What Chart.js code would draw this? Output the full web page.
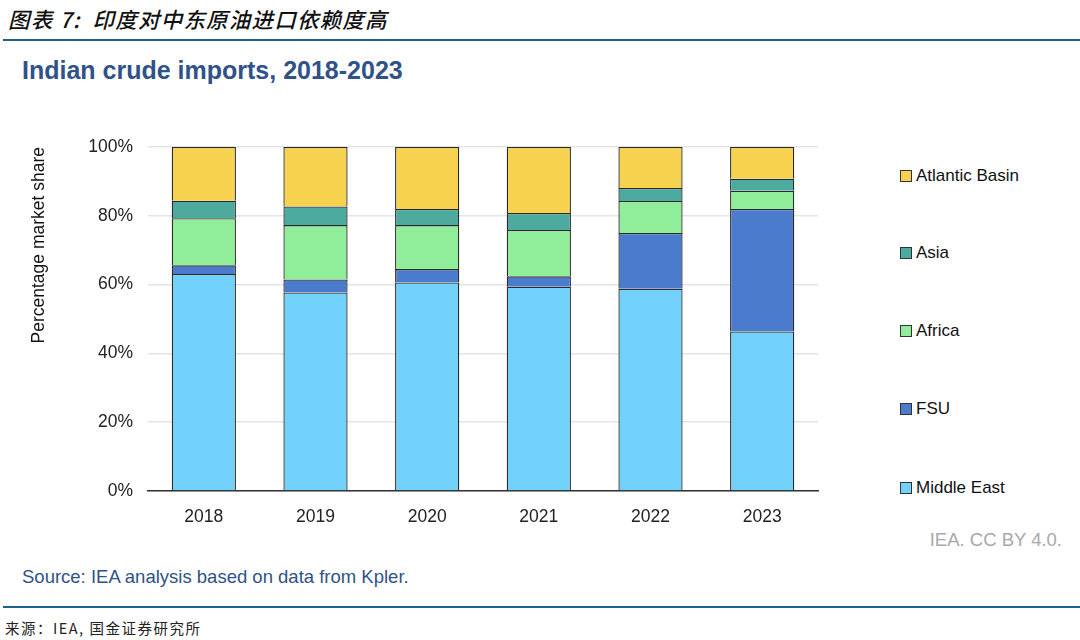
<!DOCTYPE html>
<html>
<head>
<meta charset="utf-8">
<script src="https://cdn.jsdelivr.net/npm/chart.js@4.4.1/dist/chart.umd.min.js"></script>
<style>
  html, body { margin: 0; padding: 0; background: #fff; }
  #page { position: relative; width: 1080px; height: 640px; overflow: hidden; font-family: "Liberation Sans", Arial, sans-serif; }
  .abs { position: absolute; white-space: nowrap; }
  #header { left: 8px; top: 7px; font: italic 500 21.5px/24px "Noto Sans CJK SC", sans-serif; letter-spacing: 1.2px; color: #111; }
  .rule { position: absolute; left: 3px; right: 0; height: 2px; background: #20608f; }
  #title { left: 22px; top: 55px; font: bold 25px/30px "Liberation Sans", Arial, sans-serif; color: #2f5288; }
  #credit { right: 18px; top: 529px; font: 18.5px/22px "Liberation Sans", Arial, sans-serif; color: #a8a8a8; }
  #source { left: 22px; top: 566px; font: 18.5px/22px "Liberation Sans", Arial, sans-serif; color: #2f5288; }
  #footer { left: 5px; top: 619px; font: 14.5px/18px "Noto Sans CJK SC", sans-serif; letter-spacing: 1.5px; color: #222; }
  #chart { position: absolute; left: 0; top: 120px; }
  .leg { position: absolute; left: 900px; height: 20px; display: flex; align-items: center; font: 17px "Liberation Sans", Arial, sans-serif; color: #111; }
  .leg i { display: inline-block; width: 10px; height: 10px; border: 1px solid #333; margin-right: 4px; }
</style>
</head>
<body>
<div id="page">
  <div id="header" class="abs">图表 7:&nbsp; 印度对中东原油进口依赖度高</div>
  <div class="rule" style="top:39px"></div>
  <div id="title" class="abs">Indian crude imports, 2018-2023</div>
  <canvas id="chart" width="840" height="430"></canvas>
  <div id="legend"></div>
  <div id="credit" class="abs">IEA. CC BY 4.0.</div>
  <div id="source" class="abs">Source: IEA analysis based on data from Kpler.</div>
  <div class="rule" style="top:606px"></div>
  <div id="footer" class="abs">来源：IEA, 国金证券研究所</div>
</div>
<script>
// years and share of imports (%) by origin
const years = ['2018', '2019', '2020', '2021', '2022', '2023'];
const middleEast = [63.1, 57.7, 60.6, 59.4, 58.8, 46.4];
const fsu = [2.5, 3.8, 3.9, 3.0, 16.2, 35.6];
const africa = [13.7, 15.8, 12.8, 13.5, 9.3, 5.3];
const asia = [5.1, 5.4, 4.7, 4.9, 3.8, 3.5];
const atlanticBasin = [15.6, 17.3, 18.0, 19.2, 11.9, 9.2];
const yTicks = [0, 20, 40, 60, 80, 100];

const series = [
  { label: 'Middle East', data: middleEast, color: '#72d1fa' },
  { label: 'FSU', data: fsu, color: '#4a7bcd' },
  { label: 'Africa', data: africa, color: '#90ee9a' },
  { label: 'Asia', data: asia, color: '#4daa9e' },
  { label: 'Atlantic Basin', data: atlanticBasin, color: '#f6d24f' }
];

const datasets = series.map(s => ({
  label: s.label,
  data: s.data,
  backgroundColor: s.color,
  borderColor: '#2a2a2a',
  borderWidth: 1.3,
  barPercentage: 0.575,
  categoryPercentage: 1
}));

const ctx = document.getElementById('chart').getContext('2d');
const chart = new Chart(ctx, {
  type: 'bar',
  data: { labels: years, datasets: datasets },
  options: {
    responsive: false,
    animation: false,
    devicePixelRatio: 1,
    layout: { padding: { top: 27, right: 22, left: 0, bottom: 0 } },
    plugins: { legend: { display: false }, tooltip: { enabled: false } },
    scales: {
      x: {
        stacked: true,
        grid: { display: false, drawTicks: false },
        border: { display: true, color: '#333', width: 1.5 },
        ticks: { color: '#222', padding: 16, font: { family: 'Liberation Sans', size: 17.5 } },
        afterFit: s => { s.height = 59; }
      },
      y: {
        stacked: true,
        min: 0,
        max: 100,
        afterBuildTicks: s => { s.ticks = yTicks.map(v => ({ value: v })); },
        grid: { color: '#e4e4e4', lineWidth: 1.5, drawTicks: false },
        border: { display: false },
        ticks: { color: '#222', padding: 15, font: { family: 'Liberation Sans', size: 17.5 }, callback: v => v + '%' },
        title: {
          display: true,
          text: 'Percentage market share',
          align: 'end',
          color: '#111',
          padding: { top: 29, bottom: 0 },
          font: { family: 'Liberation Sans', size: 17.5 }
        },
        afterFit: s => { s.width = 148; }
      }
    }
  }
});

// legend on the right, top to bottom in reverse stacking order
const legend = document.getElementById('legend');
const legendTop = [176, 253, 331, 409, 488];
series.slice().reverse().forEach((s, i) => {
  const el = document.createElement('div');
  el.className = 'leg';
  el.style.top = (legendTop[i] - 10) + 'px';
  el.innerHTML = '<i style="background:' + s.color + '"></i>' + s.label;
  legend.appendChild(el);
});
</script>
</body>
</html>
